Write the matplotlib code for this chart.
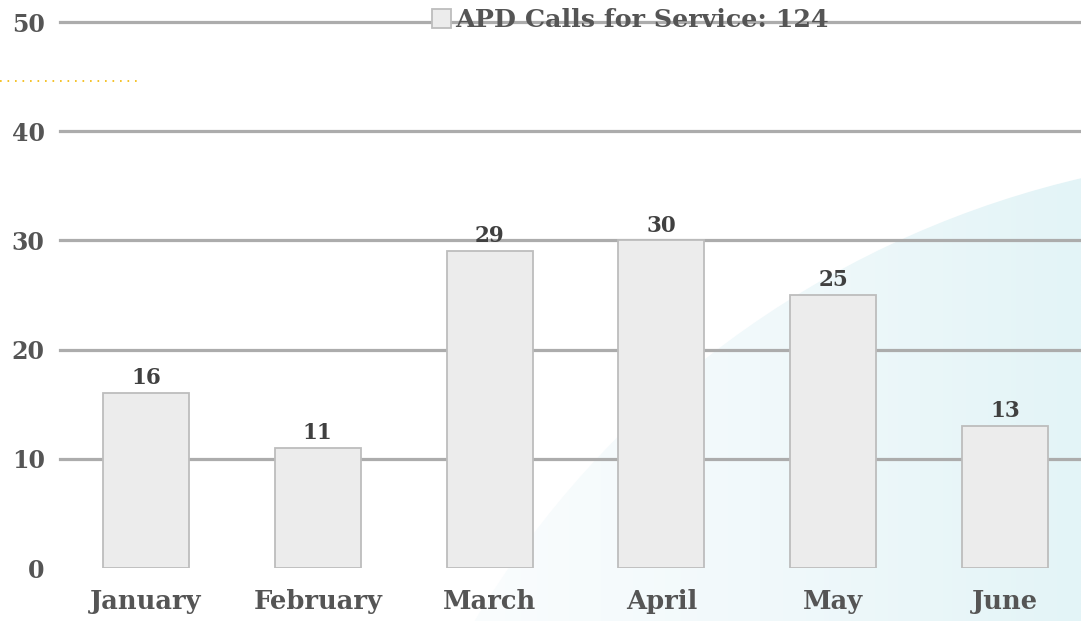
import numpy as np
import matplotlib
matplotlib.use("Agg")
import matplotlib.pyplot as plt
from matplotlib.patches import Circle, Rectangle

months = ["January", "February", "March", "April", "May", "June"]
calls = [16, 11, 29, 30, 25, 13]
y_ticks = [0, 10, 20, 30, 40, 50]
legend_label = "APD Calls for Service: 124"

FONT = ["DejaVu Serif"]
TXT = "#555555"

W, H = 1081, 621
fig = plt.figure(figsize=(W / 100, H / 100), dpi=100)
fig.patch.set_facecolor("white")

# light cyan swoosh in the background
bg = fig.add_axes([0, 0, 1, 1], zorder=0)
bg.set_xlim(0, W); bg.set_ylim(H, 0); bg.axis("off")
grad = np.linspace(0, 1, 256)[None, :]
cmap = matplotlib.colors.LinearSegmentedColormap.from_list("sw", ["#fbfdfe", "#f1f9fb", "#e3f4f7"])
im = bg.imshow(np.repeat(grad, 2, axis=0), cmap=cmap, extent=[440, W, H, 150], aspect="auto")
im.set_clip_path(Circle((1300, 1115), 962, transform=bg.transData))
bg.plot([0, 138], [81, 81], color="#f2b705", lw=1.2, ls=(0, (1, 3.5)))

# main axes (extends slightly past the right edge like the original crop)
x0, x1, yb, yt = 60, 1091, 568, 22
ax = fig.add_axes([x0 / W, 1 - yb / H, (x1 - x0) / W, (yb - yt) / H], zorder=1)
ax.patch.set_alpha(0)
x = np.arange(len(months))
ax.set_xlim(-0.5, len(months) - 0.5)
ax.set_ylim(0, 50)
for v in y_ticks[1:]:
    ax.axhline(v, color="#acacac", lw=2.3, zorder=1, clip_on=False)
bars = ax.bar(x, calls, width=0.5, color="#ececec", edgecolor="#bdbdbd", lw=1.3, zorder=2)
for xi, v in zip(x, calls):
    ax.text(xi, v + 0.35, str(v), ha="center", va="bottom", fontsize=15.5,
            fontweight="bold", color="#404040", family=FONT)

for s in ax.spines.values():
    s.set_visible(False)
ax.tick_params(length=0)
ax.set_yticks(y_ticks)
ax.set_yticklabels([str(t) for t in y_ticks], fontsize=17, fontweight="bold",
                   color=TXT, family=FONT)
ax.tick_params(axis="y", pad=11)
ax.set_xticks(x)
ax.set_xticklabels(months, fontsize=18.5, fontweight="bold", color=TXT, family=FONT)
ax.tick_params(axis="x", pad=15)

# legend drawn at top, overlapping the 50 gridline
lax = fig.add_axes([0, 0, 1, 1], zorder=3)
lax.set_xlim(0, W); lax.set_ylim(H, 0); lax.axis("off")
lax.add_patch(Rectangle((432, 9), 19, 19, facecolor="#ececec", edgecolor="#bdbdbd", lw=1.3))
lax.text(455, 20, legend_label, ha="left", va="center", fontsize=18.3,
         fontweight="bold", color=TXT, family=FONT)

fig.savefig("out.png", dpi=100)
